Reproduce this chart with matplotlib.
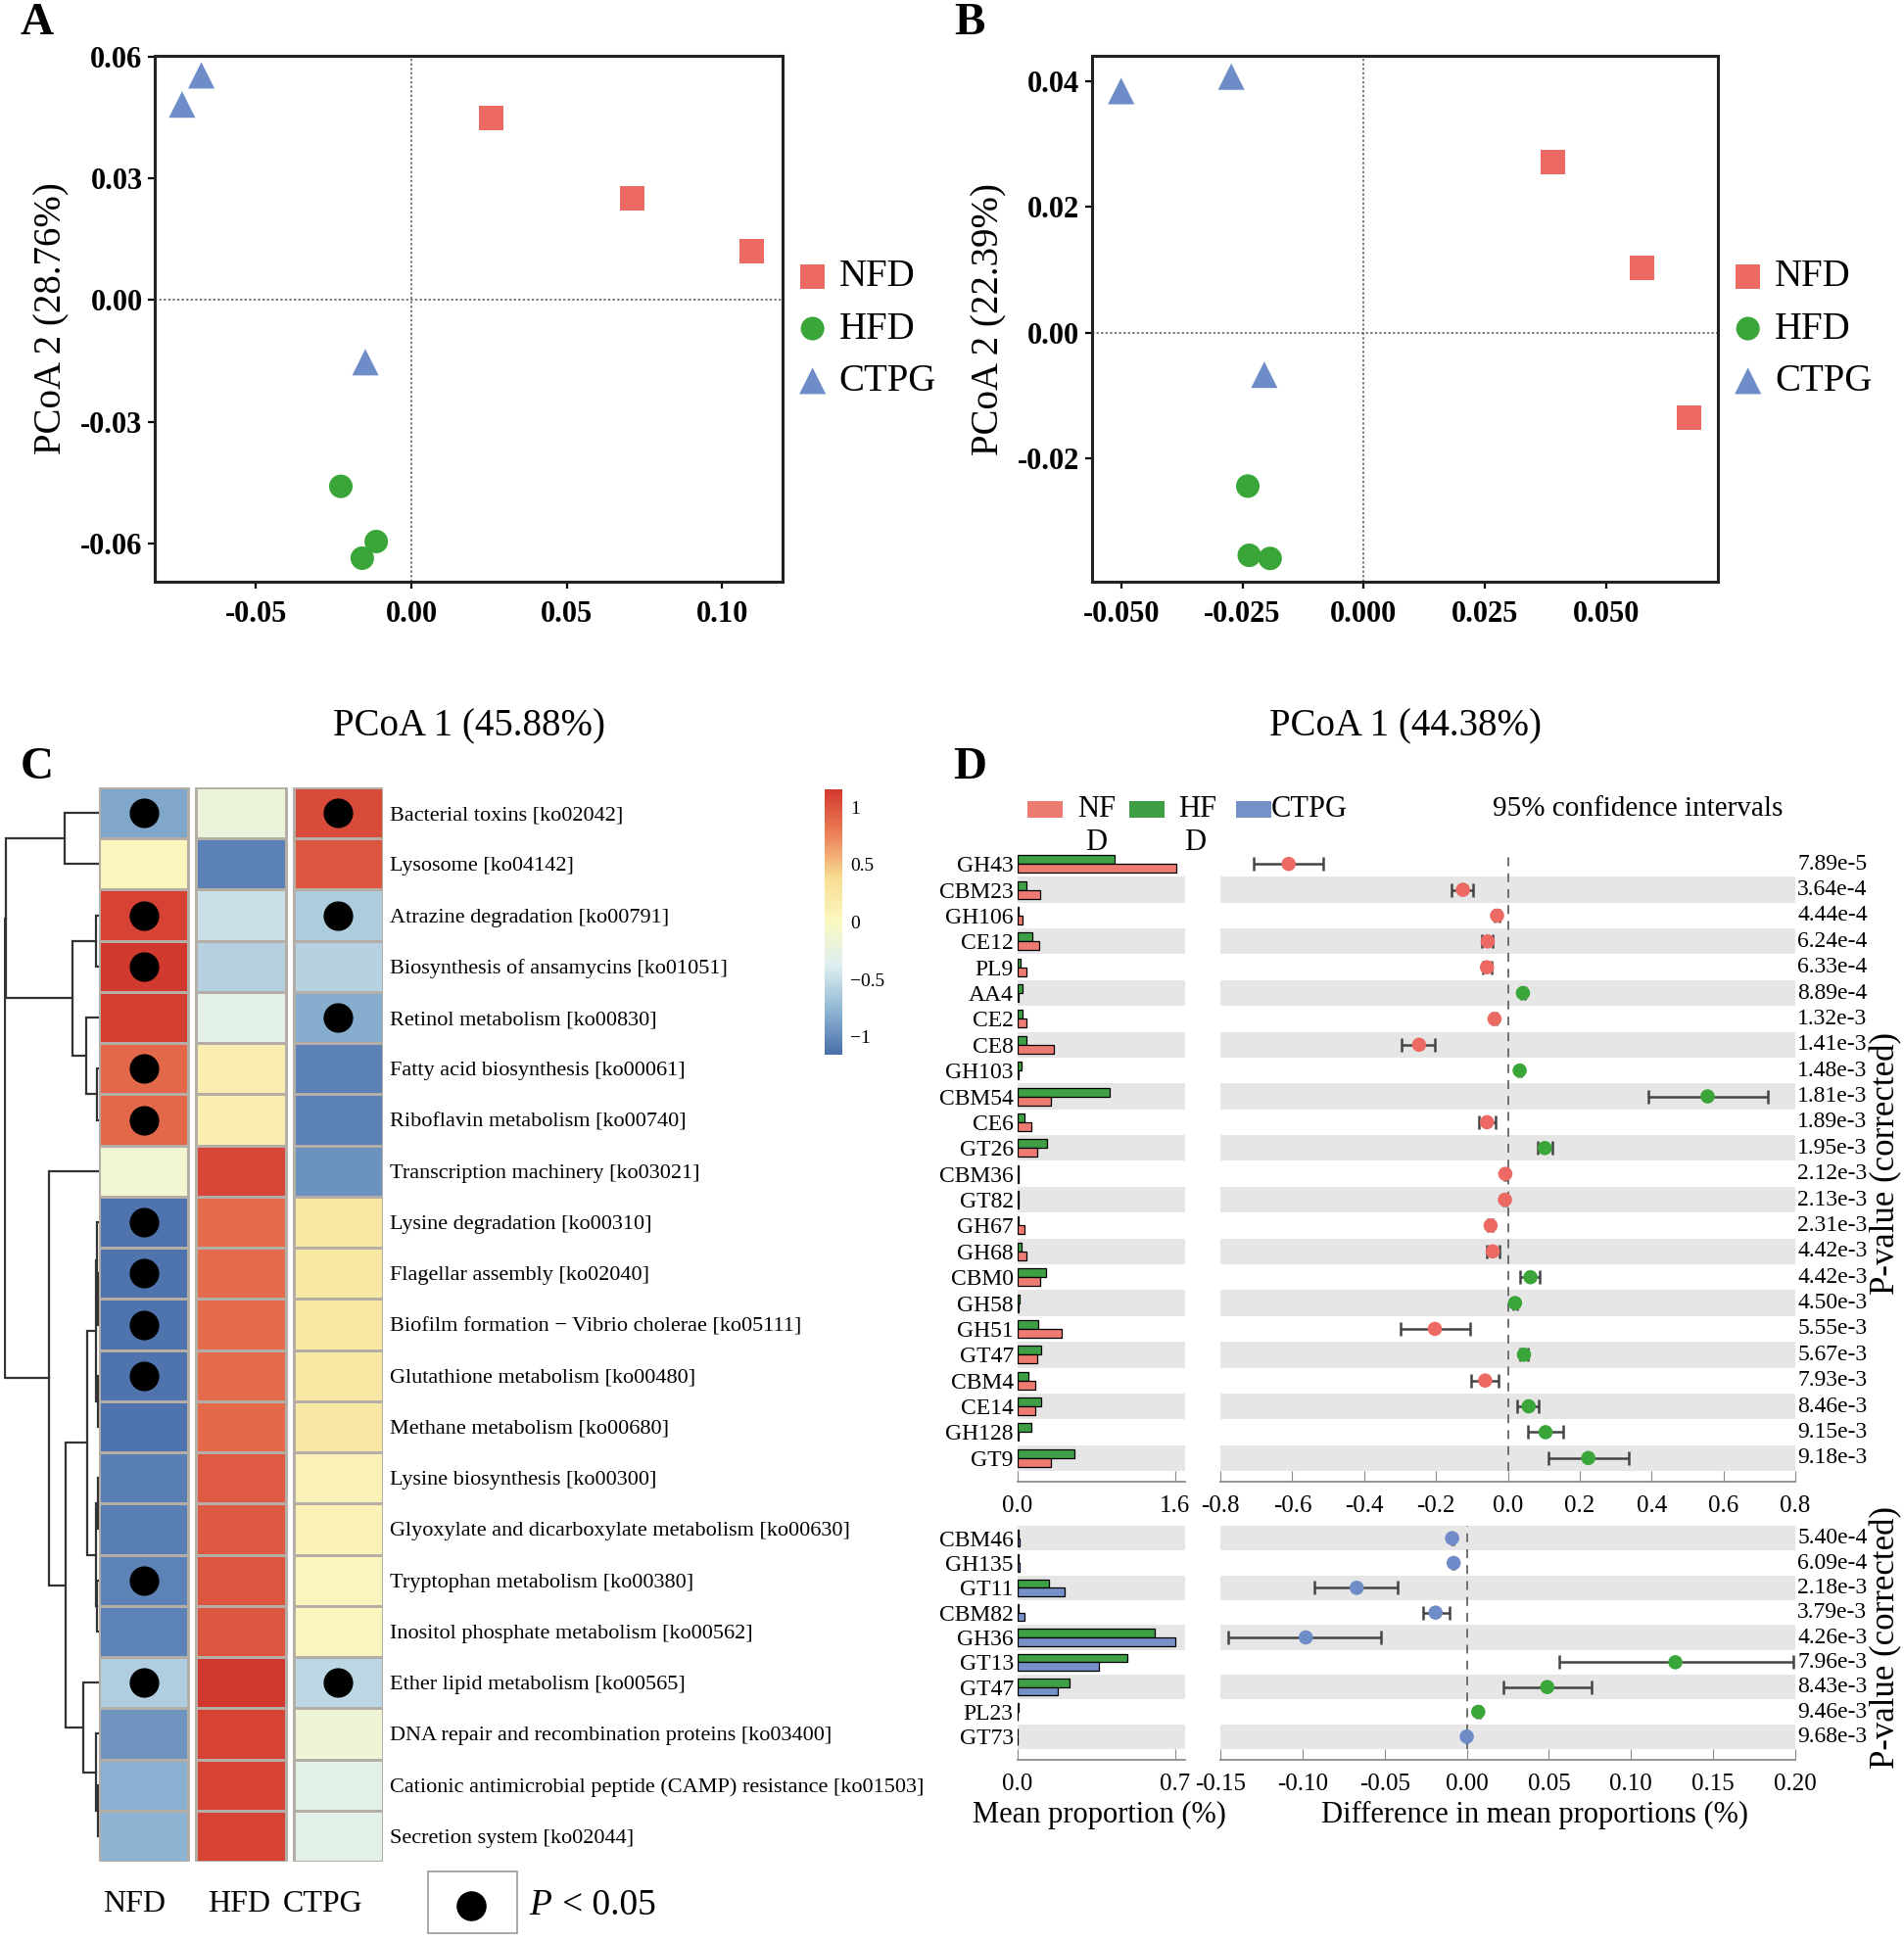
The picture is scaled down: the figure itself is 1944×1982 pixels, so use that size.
import numpy as np
import matplotlib
matplotlib.use("Agg")
import matplotlib.pyplot as plt
from matplotlib.colors import LinearSegmentedColormap, Normalize
from matplotlib.patches import Rectangle
from matplotlib.lines import Line2D
from matplotlib.transforms import blended_transform_factory
import matplotlib.cm as cm

plt.rcParams["font.family"] = ["Liberation Serif", "DejaVu Serif"]

# ---------------- data ----------------
groups = ["NFD", "HFD", "CTPG"]

# panel A (PCoA, 45.88% / 28.76%), order NFD, HFD, CTPG
pcoa_a_x = [[0.0256, 0.0711, 0.1096], [-0.0227, -0.0113, -0.0158], [-0.0676, -0.0738, -0.0148]]
pcoa_a_y = [[0.0449, 0.0250, 0.0120], [-0.0459, -0.0595, -0.0636], [0.0554, 0.0482, -0.0153]]
# panel B (PCoA, 44.38% / 22.39%)
pcoa_b_x = [[0.0390, 0.0573, 0.0671], [-0.0239, -0.0236, -0.0193], [-0.0500, -0.0273, -0.0205]]
pcoa_b_y = [[0.0271, 0.0103, -0.0135], [-0.0244, -0.0354, -0.0359], [0.0384, 0.0407, -0.0067]]

# panel C heatmap (row z-scores)
heat_rows = [
    "Bacterial toxins [ko02042]", "Lysosome [ko04142]", "Atrazine degradation [ko00791]",
    "Biosynthesis of ansamycins [ko01051]", "Retinol metabolism [ko00830]",
    "Fatty acid biosynthesis [ko00061]", "Riboflavin metabolism [ko00740]",
    "Transcription machinery [ko03021]", "Lysine degradation [ko00310]",
    "Flagellar assembly [ko02040]", "Biofilm formation \u2212 Vibrio cholerae [ko05111]",
    "Glutathione metabolism [ko00480]", "Methane metabolism [ko00680]",
    "Lysine biosynthesis [ko00300]", "Glyoxylate and dicarboxylate metabolism [ko00630]",
    "Tryptophan metabolism [ko00380]", "Inositol phosphate metabolism [ko00562]",
    "Ether lipid metabolism [ko00565]", "DNA repair and recombination proteins [ko03400]",
    "Cationic antimicrobial peptide (CAMP) resistance [ko01503]", "Secretion system [ko02044]",
]
heat_nfd = [-0.85, 0.05, 1.10, 1.15, 1.12, 0.90, 0.90, -0.12, -1.12, -1.12, -1.12,
            -1.12, -1.12, -1.07, -1.07, -1.04, -1.04, -0.60, -0.95, -0.80, -0.78]
heat_hfd = [-0.20, -1.05, -0.48, -0.58, -0.30, 0.15, 0.15, 1.08, 0.88, 0.88, 0.88,
            0.88, 0.89, 0.97, 0.98, 1.00, 0.99, 1.15, 1.10, 1.10, 1.10]
heat_ctpg = [1.05, 1.00, -0.62, -0.57, -0.82, -1.05, -1.05, -0.96, 0.24, 0.24, 0.24,
             0.24, 0.23, 0.10, 0.09, 0.04, 0.05, -0.55, -0.15, -0.30, -0.32]
sig_nfd = [0, 2, 3, 5, 6, 8, 9, 10, 11, 15, 17]
sig_hfd = []
sig_ctpg = [0, 2, 4, 17]
# row clustering: (child, child, height), ids >= 21 are earlier merges
row_merges = [
    (0, 1, 35), (2, 3, 3), (5, 6, 1.5), (4, 23, 13), (22, 24, 27), (21, 25, 94.5),
    (9, 10, 1), (8, 27, 1.5), (11, 12, 1), (28, 29, 3), (13, 14, 1), (15, 16, 1.5),
    (31, 32, 3), (30, 33, 12), (19, 20, 1), (18, 35, 3), (17, 36, 16), (34, 37, 34),
    (7, 38, 51), (26, 39, 95.5),
]

# panel D, NFD vs HFD
top_labels = ["GH43", "CBM23", "GH106", "CE12", "PL9", "AA4", "CE2", "CE8", "GH103", "CBM54",
              "CE6", "GT26", "CBM36", "GT82", "GH67", "GH68", "CBM0", "GH58", "GH51", "GT47",
              "CBM4", "CE14", "GH128", "GT9"]
top_nf = [1.61, 0.23, 0.05, 0.22, 0.09, 0.01, 0.09, 0.37, 0.01, 0.34, 0.14, 0.20,
          0.01, 0.01, 0.07, 0.09, 0.23, 0.005, 0.45, 0.20, 0.18, 0.18, 0.01, 0.34]
top_hf = [0.98, 0.09, 0.01, 0.15, 0.03, 0.05, 0.05, 0.09, 0.04, 0.93, 0.07, 0.30,
          0.005, 0.005, 0.01, 0.04, 0.29, 0.02, 0.21, 0.24, 0.11, 0.24, 0.14, 0.58]
top_diff = [-0.61, -0.125, -0.03, -0.056, -0.058, 0.042, -0.037, -0.247, 0.033, 0.556,
            -0.058, 0.103, -0.007, -0.008, -0.048, -0.042, 0.063, 0.02, -0.203, 0.045,
            -0.063, 0.058, 0.105, 0.224]
top_lo = [-0.706, -0.158, -0.036, -0.073, -0.07, 0.036, -0.043, -0.296, 0.028, 0.39,
          -0.081, 0.083, -0.01, -0.011, -0.055, -0.058, 0.033, 0.015, -0.299, 0.035,
          -0.103, 0.025, 0.055, 0.113]
top_hi = [-0.513, -0.096, -0.024, -0.042, -0.046, 0.048, -0.031, -0.203, 0.038, 0.723,
          -0.033, 0.125, -0.004, -0.005, -0.041, -0.022, 0.088, 0.025, -0.106, 0.055,
          -0.025, 0.086, 0.154, 0.337]
top_p = ["7.89e-5", "3.64e-4", "4.44e-4", "6.24e-4", "6.33e-4", "8.89e-4", "1.32e-3",
         "1.41e-3", "1.48e-3", "1.81e-3", "1.89e-3", "1.95e-3", "2.12e-3", "2.13e-3",
         "2.31e-3", "4.42e-3", "4.42e-3", "4.50e-3", "5.55e-3", "5.67e-3", "7.93e-3",
         "8.46e-3", "9.15e-3", "9.18e-3"]

# panel D, CTPG vs HFD
bot_labels = ["CBM46", "GH135", "GT11", "CBM82", "GH36", "GT13", "GT47", "PL23", "GT73"]
bot_hf = [0.003, 0.004, 0.14, 0.005, 0.61, 0.49, 0.23, 0.006, 0.002]
bot_ct = [0.01, 0.01, 0.21, 0.03, 0.70, 0.36, 0.18, 0.002, 0.001]
bot_diff = [-0.0089, -0.008, -0.067, -0.019, -0.098, 0.127, 0.049, 0.007, 0.0]
bot_lo = [-0.0095, -0.0085, -0.0926, -0.0267, -0.145, 0.0563, 0.0222, 0.006, -0.0005]
bot_hi = [-0.0083, -0.0075, -0.0419, -0.0104, -0.052, 0.199, 0.0759, 0.008, 0.0005]
bot_p = ["5.40e-4", "6.09e-4", "2.18e-3", "3.79e-3", "4.26e-3", "7.96e-3", "8.43e-3",
         "9.46e-3", "9.68e-3"]

# ---------------- style ----------------
RED = "#EC6A63"
GREEN = "#3AA63A"
BLUE = "#6E8CC7"
BAR_RED = "#EE7B72"
BAR_GREEN = "#3E9F45"
BAR_BLUE = "#7690C8"
BAND = "#E6E6E6"
heat_cmap = LinearSegmentedColormap.from_list(
    "pheat", ["#4A6FAA", "#8FB6D3", "#DDEEF0", "#FAF8C2", "#F8DD92", "#EC8058", "#D2392E"])

W, H = 1944, 1982
fig = plt.figure(figsize=(W / 100, H / 100), dpi=100)


def box(x0, y0, x1, y1):
    # pixel box with top-left origin -> figure rect
    return [x0 / W, 1 - y1 / H, (x1 - x0) / W, (y1 - y0) / H]


def ftext(x, y, s, **kw):
    fig.text(x / W, 1 - y / H, s, **kw)


# ---------------- panels A, B ----------------
def pcoa_panel(rect, xs, ys, xlim, ylim, xticks, yticks, xfmt, xlabel, ylabel):
    ax = fig.add_axes(rect)
    colors = [RED, GREEN, BLUE]
    mk = ["s", "o", "^"]
    sizes = [330, 300, 380]
    for g in range(3):
        ax.scatter(xs[g], ys[g], marker=mk[g], s=sizes[g], color=colors[g],
                   edgecolors="none", label=groups[g], zorder=3)
    ax.axhline(0, color="#555555", lw=1.1, ls=(0, (1.5, 1.5)), zorder=1)
    ax.axvline(0, color="#555555", lw=1.1, ls=(0, (1.5, 1.5)), zorder=1)
    ax.set_xlim(*xlim)
    ax.set_ylim(*ylim)
    ax.set_xticks(xticks, [xfmt.format(v) for v in xticks], fontweight="bold", fontsize=22)
    ax.set_yticks(yticks, ["{:.2f}".format(v) for v in yticks], fontweight="bold", fontsize=22)
    ax.tick_params(length=5, width=1.6, pad=4)
    ax.tick_params(axis="x", pad=9)
    for s in ax.spines.values():
        s.set_linewidth(2.2)
        s.set_color("#222222")
    ax.set_xlabel(xlabel, fontsize=28, labelpad=58)
    ax.set_ylabel(ylabel, fontsize=28, labelpad=8)
    ax.legend(loc="center left", bbox_to_anchor=(0.975, 0.48), frameon=False, fontsize=28,
              handletextpad=0.0, labelspacing=0.42, borderaxespad=0.1, markerscale=1.0,
              handlelength=1.4)
    return ax


pcoa_panel(box(158, 57, 799, 594), pcoa_a_x, pcoa_a_y, (-0.0826, 0.1195), (-0.0694, 0.0602),
           [-0.05, 0.0, 0.05, 0.10], [0.06, 0.03, 0.0, -0.03, -0.06], "{:.2f}",
           "PCoA 1 (45.88%)", "PCoA 2 (28.76%)")
pcoa_panel(box(1115, 57, 1754, 594), pcoa_b_x, pcoa_b_y, (-0.056, 0.073), (-0.0396, 0.044),
           [-0.05, -0.025, 0.0, 0.025, 0.05], [0.04, 0.02, 0.0, -0.02], "{:.3f}",
           "PCoA 1 (44.38%)", "PCoA 2 (22.39%)")

for lab, (x, y) in zip("ABCD", [(38, 24), (990, 24), (38, 784), (990, 784)]):
    ftext(x, y, lab, fontsize=34, fontweight="bold", ha="center", va="center")

# ---------------- panel C ----------------
n_rows = len(heat_rows)
pitch = 1.087
hax = fig.add_axes(box(101, 804, 391, 1901))
cols = [heat_nfd, heat_hfd, heat_ctpg]
sigs = [sig_nfd, sig_hfd, sig_ctpg]
norm = Normalize(-1.1547, 1.1547)
for j, vals in enumerate(cols):
    x0 = j * pitch
    hax.pcolormesh([x0, x0 + 1], np.arange(n_rows + 1), np.array(vals).reshape(-1, 1),
                   cmap=heat_cmap, norm=norm, edgecolors="#B5AEA6", linewidth=0.8)
    rows_sig = sigs[j]
    if rows_sig:
        hax.scatter([x0 + 0.5] * len(rows_sig), np.array(rows_sig) + 0.5, s=430,
                    color="black", zorder=3)
hax.set_xlim(0, 2 * pitch + 1)
hax.set_ylim(n_rows, 0)
hax.set_xticks([])
hax.set_yticks(np.arange(n_rows) + 0.5, heat_rows, fontsize=16)
hax.yaxis.tick_right()
hax.tick_params(axis="y", length=0, pad=5)
for s in hax.spines.values():
    s.set_visible(False)

# dendrogram
dax = fig.add_axes(box(4, 804, 101, 1901))
node_pos = {i: (i + 0.5, 0.0) for i in range(n_rows)}
for k, (a, b, h) in enumerate(row_merges):
    ya, ha = node_pos[a]
    yb, hb = node_pos[b]
    dax.plot([ha, h, h, hb], [ya, ya, yb, yb], color="#333333", lw=1.6,
             solid_joinstyle="miter")
    node_pos[n_rows + k] = ((ya + yb) / 2, h)
dax.set_xlim(96.5, 0)
dax.set_ylim(n_rows, 0)
dax.axis("off")

# colour key
cax = fig.add_axes(box(842, 806, 860, 1077))
cb = fig.colorbar(cm.ScalarMappable(norm=norm, cmap=heat_cmap), cax=cax,
                  ticks=[-1, -0.5, 0, 0.5, 1])
cb.outline.set_visible(False)
cb.ax.set_yticklabels(["\u22121", "\u22120.5", "0", "0.5", "1"])
cb.ax.tick_params(length=0, labelsize=14, pad=6)

for name, x in zip(groups, [137, 244, 330]):
    ftext(x, 1945, name, fontsize=23, ha="center", va="center")
fig.patches.append(Rectangle((437 / W, 1 - 1974 / H), 91 / W, 63 / H, transform=fig.transFigure,
                             fill=False, edgecolor="#999999", lw=1.2))
fig.lines.append(Line2D([481 / W], [1 - 1946 / H], marker="o", markersize=21, color="black",
                        transform=fig.transFigure))
ftext(540, 1946, "P", fontsize=27, style="italic", ha="left", va="center")
ftext(574, 1946, "< 0.05", fontsize=27, ha="left", va="center")


# ---------------- panel D ----------------
def stamp_section(y0, y1, labels, a_vals, b_vals, a_bar, b_bar, a_dot, diff, lo, hi, pvals,
                  bar_xlim, bar_ticks, diff_xlim, diff_ticks, diff_fmt, band_parity):
    n = len(labels)
    ypos = np.arange(n)
    axb = fig.add_axes(box(1039, y0, 1210, y1))
    axd = fig.add_axes(box(1246, y0, 1833, y1))
    # spine placement first: moving a spine rebuilds the ticks
    for ax in (axb, axd):
        for s in ("top", "right", "left"):
            ax.spines[s].set_visible(False)
        ax.spines["bottom"].set_position(("outward", 8))
        ax.spines["bottom"].set_color("#8A8A8A")
        ax.spines["bottom"].set_linewidth(1.3)
        ax.set_facecolor("none")

    for i in ypos:
        if i % 2 == band_parity:
            axb.axhspan(i - 0.5, i + 0.5, color=BAND, lw=0, zorder=0)
            axd.axhspan(i - 0.5, i + 0.5, color=BAND, lw=0, zorder=0)
    axb.barh(ypos - 0.17, b_vals, height=0.34, color=b_bar, edgecolor="black", lw=0.9, zorder=2)
    axb.barh(ypos + 0.17, a_vals, height=0.34, color=a_bar, edgecolor="black", lw=0.9, zorder=2)
    axb.set_xlim(*bar_xlim)
    axb.set_ylim(n - 0.5, -0.5)
    axb.set_yticks(ypos, labels)
    axb.set_xticks(bar_ticks, ["{:.1f}".format(v) for v in bar_ticks])

    d = np.array(diff)
    axd.axvline(0, color="#666666", lw=1.3, ls=(0, (5, 4)), zorder=1)
    axd.errorbar(d, ypos, xerr=[d - np.array(lo), np.array(hi) - d], fmt="none",
                 ecolor="#444444", elinewidth=1.8, capsize=5, capthick=1.8, zorder=2)
    dot_colors = [a_dot if v <= 0 else GREEN for v in d]
    axd.scatter(d, ypos, s=110, c=dot_colors, zorder=3, edgecolors="none")
    axd.set_xlim(*diff_xlim)
    axd.set_ylim(n - 0.5, -0.5)
    axd.set_yticks([])
    axd.set_xticks(diff_ticks, [diff_fmt.format(v) for v in diff_ticks])
    tr = blended_transform_factory(axd.transAxes, axd.transData)
    for i, p in enumerate(pvals):
        axd.text(1.004, i, p, transform=tr, ha="left", va="center", fontsize=17)

    for ax in (axb, axd):
        ax.tick_params(axis="x", direction="in", length=8, color="#8A8A8A", pad=10,
                       labelsize=18)
        ax.tick_params(axis="y", length=0, pad=3, labelsize=17)
    return axb, axd


stamp_section(869, 1502, top_labels, top_nf, top_hf, BAR_RED, BAR_GREEN, RED,
              top_diff, top_lo, top_hi, top_p, (0, 1.7), [0, 1.6], (-0.8, 0.8),
              [-0.8, -0.6, -0.4, -0.2, 0.0, 0.2, 0.4, 0.6, 0.8], "{:.1f}", 1)
stamp_section(1558, 1786, bot_labels, bot_ct, bot_hf, BAR_BLUE, BAR_GREEN, BLUE,
              bot_diff, bot_lo, bot_hi, bot_p, (0, 0.745), [0, 0.7], (-0.15, 0.20),
              [-0.15, -0.10, -0.05, 0.0, 0.05, 0.10, 0.15, 0.20], "{:.2f}", 0)

# legend of panel D
leg_items = [("NF", BAR_RED, 1049, 1100), ("HF", BAR_GREEN, 1153, 1203), ("CTPG", BAR_BLUE, 1262, 1298)]
for txt, col, px, tx in leg_items:
    fig.patches.append(Rectangle((px / W, 1 - 835 / H), 36 / W, 17 / H,
                                 transform=fig.transFigure, color=col, lw=0))
    ftext(tx, 826, txt, fontsize=22, ha="left", va="center")
ftext(1119, 860, "D", fontsize=22, ha="center", va="center")
ftext(1220, 860, "D", fontsize=22, ha="center", va="center")
ftext(1524, 826, "95% confidence intervals", fontsize=21, ha="left", va="center")

ftext(1926, 1188, "P-value (corrected)", fontsize=25, rotation=90, ha="center", va="center")
ftext(1926, 1672, "P-value (corrected)", fontsize=25, rotation=90, ha="center", va="center")
ftext(1122, 1853, "Mean proportion (%)", fontsize=22, ha="center", va="center")
ftext(1567, 1853, "Difference in mean proportions (%)", fontsize=22, ha="center", va="center")

fig.savefig("out.png", dpi=100, facecolor="white")
